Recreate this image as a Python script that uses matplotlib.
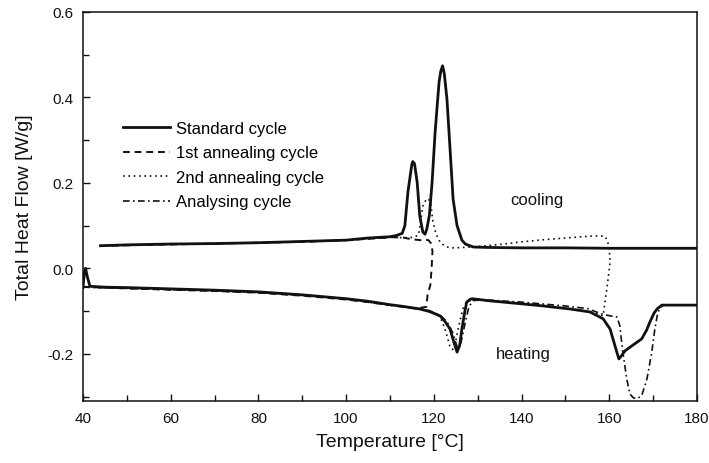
import matplotlib
matplotlib.use("Agg")
import matplotlib.pyplot as plt
from matplotlib.ticker import MultipleLocator

plt.rcParams['font.family'] = ['Liberation Sans', 'DejaVu Sans']

# Standard cycle: heating 40 -> 180 °C, then cooling 180 -> 44 °C
std_heat_T = [40.0, 40.3, 40.6, 41.0, 41.6, 45, 50, 60, 70, 80, 90, 100, 105, 110, 113,
              116.8, 119, 121.4, 122.6, 123.7, 124.5, 125.3, 125.9, 126.4, 127.0, 127.5,
              128.2, 128.7, 132.8, 140, 145, 151, 155.6, 158.6, 160.2, 161.3, 162.2, 162.9,
              163.6, 165.2, 167.4, 168.5, 169.3, 170.2, 170.9, 172.0, 175, 180]
std_heat_HF = [-0.045, -0.012, 0.0, -0.02, -0.042, -0.044, -0.045, -0.048, -0.051, -0.055,
               -0.062, -0.071, -0.077, -0.085, -0.089, -0.095, -0.101, -0.111, -0.125, -0.142,
               -0.17, -0.196, -0.18, -0.142, -0.105, -0.079, -0.073, -0.071, -0.076, -0.083,
               -0.088, -0.095, -0.102, -0.118, -0.142, -0.181, -0.212, -0.203, -0.193, -0.181,
               -0.165, -0.145, -0.125, -0.105, -0.095, -0.086, -0.086, -0.086]
std_cool_T = [180, 170, 160, 150, 140, 132, 129, 128.2, 127.2, 126.4, 125.3, 124.4, 123.7,
              123.0, 122.4, 122.0, 121.6, 121.2, 120.3, 119.6, 119.0, 118.4, 118.0, 117.5,
              116.8, 116.2, 115.6, 115.2, 115.0, 114.1, 113.4, 112.8, 111.5, 110, 105, 100,
              90, 80, 70, 60, 50, 44]
std_cool_HF = [0.047, 0.047, 0.047, 0.048, 0.048, 0.049, 0.05, 0.053, 0.057, 0.066, 0.1,
               0.162, 0.28, 0.396, 0.455, 0.474, 0.462, 0.436, 0.319, 0.2, 0.125, 0.092,
               0.08, 0.085, 0.123, 0.202, 0.245, 0.25, 0.244, 0.179, 0.1, 0.082, 0.077,
               0.074, 0.071, 0.066, 0.063, 0.06, 0.058, 0.057, 0.055, 0.053]

# 1st annealing cycle: heating to ~119 °C, then cooling back to 45 °C
ann1_T = [40, 45, 50, 60, 70, 80, 90, 100, 105, 110, 113, 116, 118.3,
          118.6, 119.2, 119.5, 119.7, 119.4, 118.8,
          118.0, 117, 116, 115, 114, 113, 111, 108, 100, 90, 80, 70, 60, 50, 45]
ann1_HF = [-0.043, -0.045, -0.047, -0.05, -0.053, -0.057, -0.064, -0.073, -0.079, -0.086,
           -0.09, -0.094, -0.09,
           -0.06, -0.04, 0.0, 0.04, 0.058, 0.066,
           0.067, 0.066, 0.067, 0.068, 0.07, 0.072, 0.073, 0.071, 0.066, 0.062, 0.06,
           0.058, 0.056, 0.054, 0.053]

# 2nd annealing cycle: heating to ~160 °C, then cooling back to 45 °C
ann2_T = [40, 50, 60, 70, 80, 90, 100, 110, 115, 119, 120.5, 121.5, 122.3, 123.0, 123.7,
          124.3, 125.0, 125.8, 126.6, 127.5, 129, 135, 140, 145, 150, 155, 158.6,
          159.3, 159.8, 160.2, 160.0, 159.6, 159.0,
          157, 155, 150, 145, 140, 137, 133, 130, 127, 124.5, 123.5, 122.5, 121.4, 120.5,
          119.8, 119.3, 118.8, 118.2, 117.5, 117.0, 116.5, 115.5, 114.6, 112, 110, 100,
          90, 80, 70, 60, 50, 45]
ann2_HF = [-0.044, -0.047, -0.05, -0.053, -0.057, -0.063, -0.072, -0.086, -0.093, -0.099,
           -0.106, -0.115, -0.135, -0.158, -0.184, -0.19, -0.17, -0.13, -0.095, -0.078,
           -0.073, -0.077, -0.082, -0.087, -0.093, -0.1, -0.111,
           -0.06, -0.02, 0.015, 0.045, 0.065, 0.075,
           0.076, 0.075, 0.071, 0.067, 0.062, 0.058, 0.054, 0.051, 0.049, 0.048, 0.049,
           0.052, 0.062, 0.08, 0.11, 0.15, 0.163, 0.16, 0.146, 0.11, 0.078, 0.073, 0.072,
           0.072, 0.073, 0.066, 0.063, 0.06, 0.058, 0.056, 0.054, 0.053]

# Analysing cycle: heating only
anal_T = [40, 50, 60, 70, 80, 90, 100, 110, 115, 119, 121.5, 123, 124.3, 125.2, 125.7,
          126.4, 127.2, 128, 129, 132, 140, 150, 155, 158.6, 161.8, 162.4, 163.1, 164,
          164.7, 165.5, 166.3, 167.4, 168.6, 169.7, 170.4, 171.1, 172.2, 175, 180]
anal_HF = [-0.044, -0.046, -0.049, -0.052, -0.056, -0.062, -0.071, -0.085, -0.092, -0.099,
           -0.11, -0.125, -0.15, -0.18, -0.19, -0.165, -0.125, -0.09, -0.075, -0.074,
           -0.079, -0.088, -0.094, -0.108, -0.114, -0.134, -0.196, -0.259, -0.294, -0.303,
           -0.305, -0.298, -0.259, -0.196, -0.142, -0.102, -0.086, -0.086, -0.086]

fig = plt.figure(figsize=(7.09, 4.64), dpi=100)
ax = fig.add_axes([0.117, 0.134, 0.866, 0.838])

ink = '#111111'
ax.plot(std_heat_T, std_heat_HF, color=ink, lw=2.0, label='Standard cycle')
ax.plot(std_cool_T, std_cool_HF, color=ink, lw=2.0)
ax.plot(ann1_T, ann1_HF, color=ink, lw=1.4, dashes=(3.5, 2.5), label='1st annealing cycle')
ax.plot(ann2_T, ann2_HF, color=ink, lw=1.2, dashes=(1, 2.2), label='2nd annealing cycle')
ax.plot(anal_T, anal_HF, color=ink, lw=1.2, dashes=(4, 2, 1, 2), label='Analysing cycle')

ax.text(143.5, 0.162, 'cooling', fontsize=12, ha='center', va='center', color=ink)
ax.text(140.5, -0.2, 'heating', fontsize=12, ha='center', va='center', color=ink)

ax.set_xlim(40, 180)
ax.set_ylim(-0.31, 0.6)
ax.xaxis.set_major_locator(MultipleLocator(20))
ax.xaxis.set_minor_locator(MultipleLocator(10))
ax.yaxis.set_major_locator(MultipleLocator(0.2))
ax.yaxis.set_minor_locator(MultipleLocator(0.1))
ax.yaxis.set_major_formatter(plt.FuncFormatter(lambda v, p: f'{v:.1f}'))
ax.tick_params(which='both', direction='in', top=False, right=False, colors=ink,
               labelsize=11, width=1.0)
ax.tick_params(which='major', length=5, pad=7)
ax.tick_params(which='minor', length=4)
for s in ax.spines.values():
    s.set_linewidth(1.1)
    s.set_color(ink)

ax.set_xlabel('Temperature [°C]', fontsize=14, color=ink, labelpad=6)
ax.set_ylabel('Total Heat Flow [W/g]', fontsize=14, color=ink, labelpad=10)

ax.legend(loc='upper left', bbox_to_anchor=(0.065, 0.72), frameon=False, fontsize=12,
          handlelength=2.8, handletextpad=0.4, labelspacing=0.57, borderpad=0,
          borderaxespad=0)

fig.savefig('out.png', dpi=100)
